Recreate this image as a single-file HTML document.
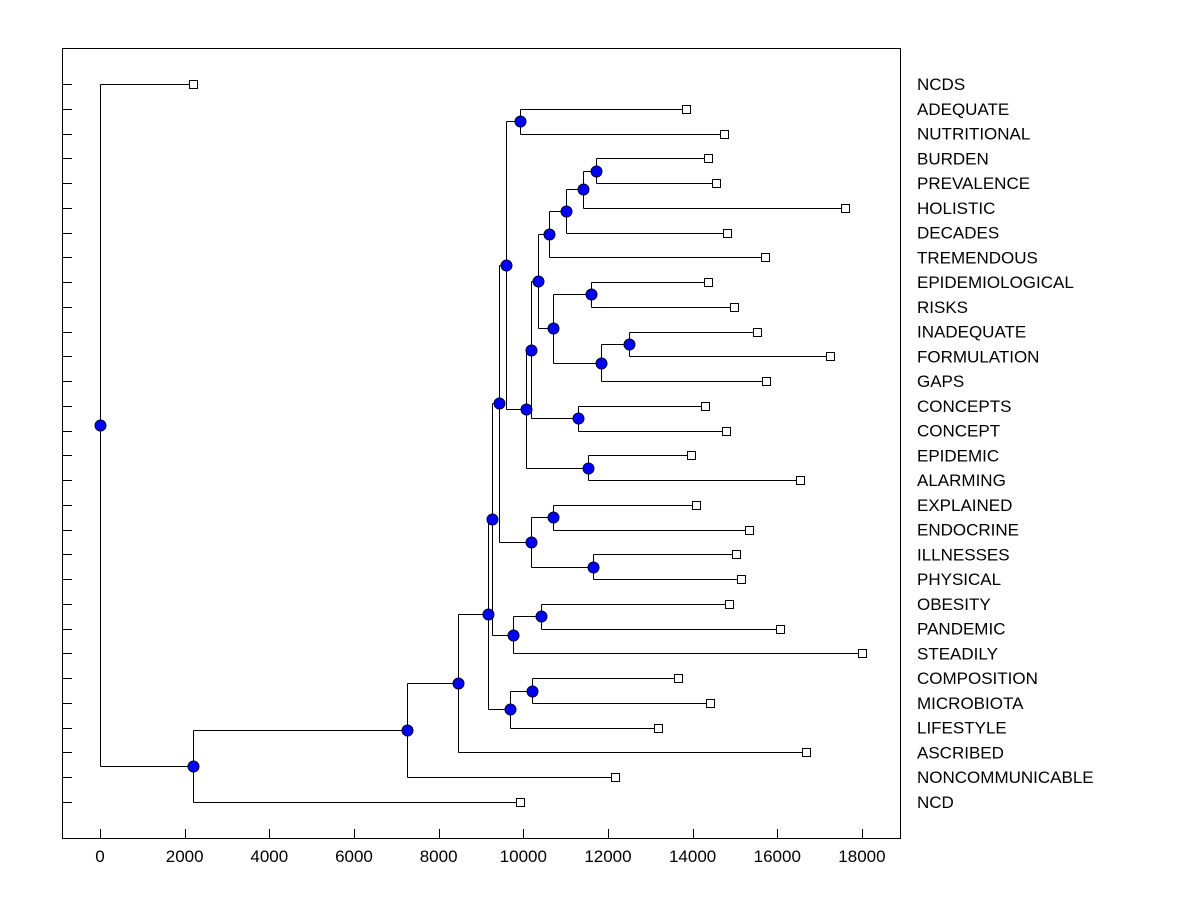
<!DOCTYPE html>
<html><head><meta charset="utf-8"><style>
body{margin:0;background:#fff;}
svg{display:block;font-family:"Liberation Sans",Arial,sans-serif;}
</style></head><body>
<svg id="chart" width="1200" height="900">
<rect x="62.5" y="48.5" width="838" height="790" fill="#fff" stroke="#000" stroke-width="1" shape-rendering="crispEdges"/>
<g id="g" shape-rendering="crispEdges"></g>
<g id="gm"></g>
</svg>
<script>
const leafNames=["NCDS","ADEQUATE","NUTRITIONAL","BURDEN","PREVALENCE","HOLISTIC","DECADES","TREMENDOUS","EPIDEMIOLOGICAL","RISKS","INADEQUATE","FORMULATION","GAPS","CONCEPTS","CONCEPT","EPIDEMIC","ALARMING","EXPLAINED","ENDOCRINE","ILLNESSES","PHYSICAL","OBESITY","PANDEMIC","STEADILY","COMPOSITION","MICROBIOTA","LIFESTYLE","ASCRIBED","NONCOMMUNICABLE","NCD"];
const leafHeights=[2197,13844,14741,14363,14552,17600,14812,15710,14363,14977,15521,17246,15734,14292,14789,13962,16537,14080,15332,15025,15143,14860,16064,18001,13655,14411,13182,16679,12166,9922];
// merges: [childA, childB, height]; non-negative = leaf index, negative = -(merge index+1)
const mergeLeft=[3,-1,-2,-3,8,10,-6,-5,-4,13,-9,15,-11,1,-14,17,19,-16,-15,21,-20,-19,24,-23,-22,-25,-26,-27,0];
const mergeRight=[4,5,6,7,9,11,12,-7,-8,14,-10,16,-12,2,-13,18,20,-17,-18,22,23,-21,25,26,-24,27,28,29,-28];
const mergeHeights=[11717,11410,11009,10607,11599,12497,11836,10702,10347,11292,10182,11528,10064,9922,9591,10702,11647,10182,9426,10418,9757,9261,10206,9686,9166,8457,7253,2200,0];
const xTicks=[0,2000,4000,6000,8000,10000,12000,14000,16000,18000];

const NS="http://www.w3.org/2000/svg";
const g=document.getElementById('g');
const gm=document.getElementById('gm');
const X=v=>100+v*0.04233;
const Y=i=>84+i*(802-84)/29;
const R=v=>Math.round(v)+0.5;
function mk(t,a,p){const e=document.createElementNS(NS,t);for(const k in a)e.setAttribute(k,a[k]);(p||g).appendChild(e);return e;}
leafNames.forEach((n,i)=>{
  const t=mk('line',{x1:62,x2:72,y1:R(Y(i)),y2:R(Y(i)),stroke:'#000'});
  
  
  const l=mk('text',{x:917,y:Y(i)+6,'font-size':17,fill:'#000'},gm);
  l.textContent=n;
  
  
});
xTicks.forEach(v=>{
  const t=mk('line',{x1:R(X(v)),x2:R(X(v)),y1:838,y2:829,stroke:'#000'});
  
  
  const l=mk('text',{x:X(v),y:862,'font-size':17,'text-anchor':'middle',fill:'#000'},gm);
  l.textContent=v;
  
  
});
const pos=[];
function P(id){ if(id>=0) return {x:X(leafHeights[id]),y:Y(id)}; return pos[-id-1]; }
const circles=[];
for(let k=0;k<mergeHeights.length;k++){
  const a=P(mergeLeft[k]),b=P(mergeRight[k]);
  const x=X(mergeHeights[k]);
  const y=(a.y+b.y)/2;
  pos[k]={x,y};
  const v=mk('line',{x1:R(x),x2:R(x),y1:R(a.y),y2:R(b.y),stroke:'#000'});
  
  
  [a,b].forEach(c=>{
    const h=mk('line',{x1:R(x),x2:R(c.x),y1:R(c.y),y2:R(c.y),stroke:'#000'});
    
    
  });
  circles.push({x,y});
}
leafNames.forEach((n,i)=>{
  const r=mk('rect',{x:R(X(leafHeights[i])-4),y:R(Y(i)-4),width:8,height:8,fill:'#fff',stroke:'#000'});
  
  
});
circles.forEach(c=>{
  const e=mk('circle',{cx:R(c.x),cy:R(c.y),r:5.5,fill:'#0000ff',stroke:'#000033','stroke-width':1},gm);
  
  
});
</script>
</body></html>
